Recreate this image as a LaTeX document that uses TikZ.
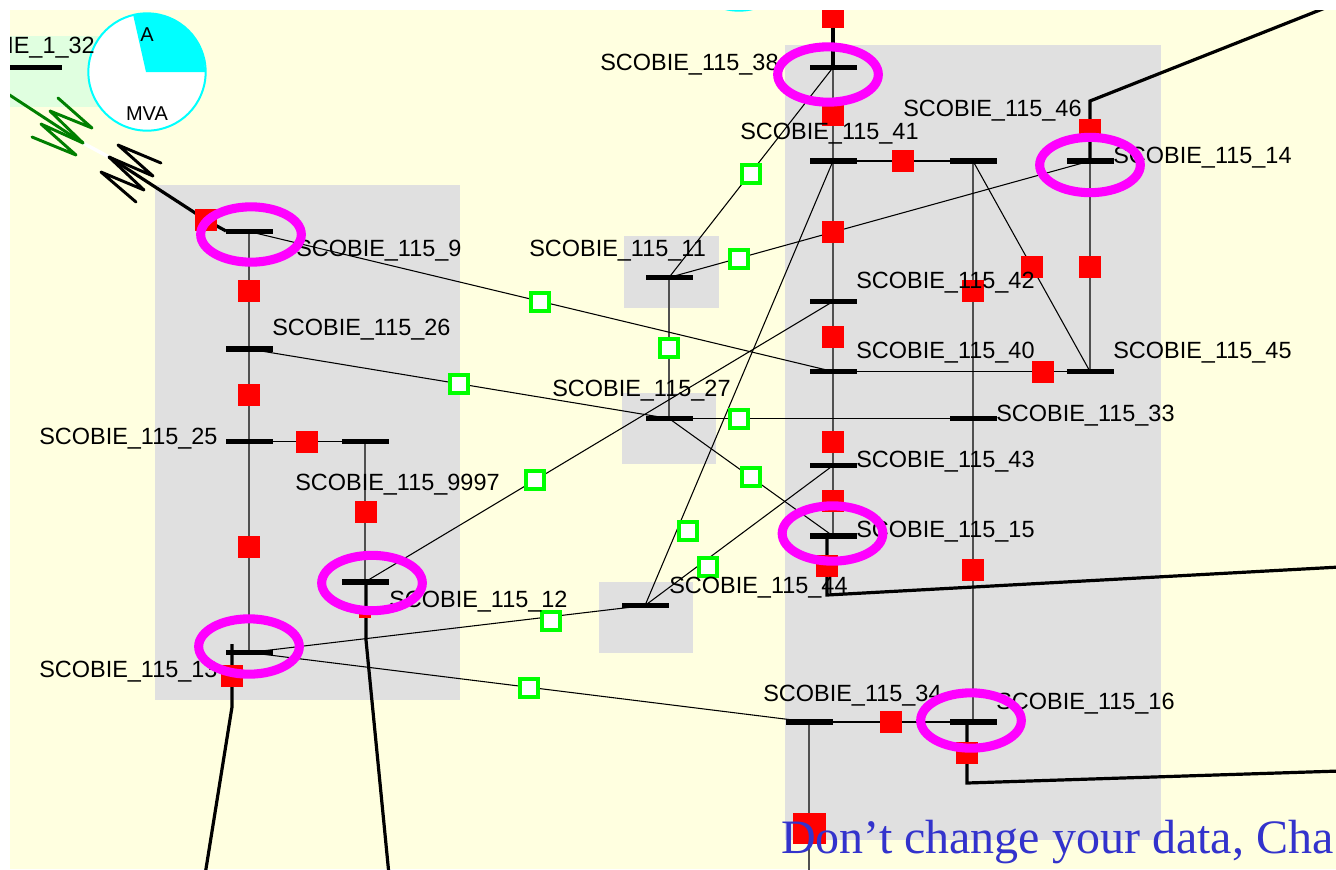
\documentclass[tikz,border=0pt]{standalone}
\usepackage{fontspec}
\setmainfont{Liberation Sans}
\newfontfamily\serifblue{Liberation Serif}
\usetikzlibrary{shapes.geometric}
\pgfdeclarelayer{under}
\pgfdeclarelayer{lines}
\pgfsetlayers{under,lines,main}
\definecolor{bgy}{HTML}{FFFFE0}
\definecolor{boxg}{HTML}{E0E0E0}
\definecolor{boxl}{HTML}{E0FFE0}
\definecolor{vgray}{HTML}{505050}
\definecolor{txtblue}{HTML}{3333CC}
\definecolor{dgreen}{HTML}{007F00}
\definecolor{purecyan}{HTML}{00FFFF}
\definecolor{puremag}{HTML}{FF00FF}
\definecolor{puregreen}{HTML}{00FF00}
\definecolor{purered}{HTML}{FF0000}
\tikzset{
  x=0.75pt,y=-0.75pt,
  bus/.style={fill=black,inner sep=0,outer sep=0,minimum width=35.25pt,minimum height=4pt},
  redsq/.style={fill=purered,inner sep=0,outer sep=0,minimum width=16.2pt,minimum height=16pt},
  grnsq/.style={fill=white,draw=puregreen,line width=2.5pt,inner sep=0,minimum size=13.5pt},
  halo/.style={ellipse,draw=puremag,line width=6.8pt,inner sep=0,minimum width=75.5pt,minimum height=41.5pt},
  lab/.style={inner sep=0,anchor=base west,font=\fontsize{17.6}{20}\selectfont,text=black},
  thin line/.style={draw=black,line width=0.8pt},
  vert line/.style={draw=vgray,line width=1.1pt},
  thick line/.style={draw=black,line width=2.4pt,line join=miter},
  zig/.style={line width=2.2pt,line join=round,line cap=round},
  area/.style={fill=boxg,draw=none},
  pie/.style={circle,draw=purecyan,fill=white,line width=1.5pt,inner sep=0,minimum size=88pt}
}
\begin{document}
\begin{tikzpicture}
\useasboundingbox (0,0) rectangle (1336,869);
\begin{pgfonlayer}{under}
\fill[white] (0,0) rectangle (1336,869);
\begin{scope}
\clip (10,10) rectangle (1336,869);
\fill[bgy] (10,10) rectangle (1336,869);
\fill[boxl] (10,36) rectangle (105,107);
\fill[area] (155,185) rectangle (460,700);
\fill[area] (785,45) rectangle (1161,840);
\fill[area] (624,236) rectangle (719,308);
\fill[area] (622,393) rectangle (716,464);
\fill[area] (599,582) rectangle (693,653);
\node[pie] (pieb) at (739,-48) {};
\node[pie] (pie) at (147,72) {};
\fill[purecyan] (146,72) -- (205,72) arc[start angle=0,end angle=103,radius=44pt] -- cycle;
\end{scope}
\end{pgfonlayer}
\begin{scope}
\clip (10,10) rectangle (1336,869);
% free ends
\coordinate (e38) at (833,5);
\coordinate (c46) at (1090,101);
\coordinate (e46) at (1325,8);
\coordinate (t15) at (827,536);
\coordinate (c15) at (827,595);
\coordinate (e15) at (1340,567);
\coordinate (t16) at (967,722);
\coordinate (c16) at (967,783);
\coordinate (e16) at (1340,771);
\coordinate (t12) at (366,582);
\coordinate (c12) at (366,640);
\coordinate (e12) at (389,875);
\coordinate (t13) at (232,644);
\coordinate (c13) at (232,707);
\coordinate (e13) at (205,875);
\coordinate (e34) at (809,875);
\coordinate (tt) at (109,157);
\coordinate (tg) at (83,143);
\coordinate (eg) at (5,92);
\coordinate (k9) at (226,231);
% red squares
\node[redsq] (r38t) at (833,17) {};
\node[redsq] (r38b) at (833,115) {};
\node[redsq] (r46) at (1090,130) {};
\node[redsq] (r15b) at (827,566) {};
\node[redsq] (r16b) at (967,753) {};
\node[redsq,minimum width=9pt,minimum height=9pt] (r12b) at (365,612) {};
\node[redsq] (r13b) at (232,676) {};
\node[redsq] (r9) at (206,220) {};
\node[redsq,minimum width=24.8pt,minimum height=23.2pt] (r34b) at (809.5,828.5) {};
\node[redsq] (r1) at (903,161) {};
\node[redsq] (r2) at (833,232) {};
\node[redsq] (r3) at (833,337) {};
\node[redsq] (r4) at (833,442) {};
\node[redsq] (r5) at (833,501) {};
\node[redsq] (r6) at (1043,372) {};
\node[redsq] (r7) at (973,291) {};
\node[redsq] (r8) at (973,570) {};
\node[redsq] (r10) at (1032,267) {};
\node[redsq] (r11) at (1090,267) {};
\node[redsq] (r12) at (891,722) {};
\node[redsq] (r13) at (249,291) {};
\node[redsq] (r14) at (249,395) {};
\node[redsq] (r15) at (307,442) {};
\node[redsq] (r16) at (249,547) {};
\node[redsq] (r17) at (366,512) {};
% green squares
\node[grnsq] (g1) at (751,174) {};
\node[grnsq] (g2) at (739,259) {};
\node[grnsq] (g3) at (540,302) {};
\node[grnsq] (g4) at (459,384) {};
\node[grnsq] (g5) at (669,348) {};
\node[grnsq] (g6) at (739,419) {};
\node[grnsq] (g7) at (751,477) {};
\node[grnsq] (g8) at (535,480) {};
\node[grnsq] (g9) at (688,531) {};
\node[grnsq] (g10) at (708,567) {};
\node[grnsq] (g11) at (551,621) {};
\node[grnsq] (g12) at (529,688) {};
% buses
\node[bus,minimum width=42pt] (b32) at (34,67.5) {};
\node[bus] (b9) at (249,231.5) {};
\node[bus] (b26) at (249,349) {};
\node[bus] (b25) at (249,441.5) {};
\node[bus] (b9997) at (365,441.5) {};
\node[bus] (b12) at (365,582) {};
\node[bus] (b13) at (249,652.5) {};
\node[bus] (b38) at (833,67.5) {};
\node[bus] (b41) at (833,161) {};
\node[bus] (b46) at (973,161) {};
\node[bus] (b14) at (1090,161) {};
\node[bus] (b42) at (833,301.5) {};
\node[bus] (b40) at (833,371.5) {};
\node[bus] (b45) at (1090,371.5) {};
\node[bus] (b33) at (973,418.5) {};
\node[bus] (b43) at (833,465.5) {};
\node[bus] (b15) at (833,536) {};
\node[bus] (b27) at (669,418.5) {};
\node[bus] (b11) at (669,277.5) {};
\node[bus] (b44) at (645,605.5) {};
\node[bus] (b34) at (809,722) {};
\node[bus] (b16) at (973,722) {};
% labels
\node[lab,anchor=base east] (l32) at (95,53) {SCOBIE\_1\_32};
\node[lab] (l38) at (600,70) {SCOBIE\_115\_38};
\node[lab] (l41) at (740,139) {SCOBIE\_115\_41};
\node[lab] (l46) at (903,116) {SCOBIE\_115\_46};
\node[lab] (l14) at (1113,163) {SCOBIE\_115\_14};
\node[lab] (l42) at (856,288) {SCOBIE\_115\_42};
\node[lab] (l40) at (856,358) {SCOBIE\_115\_40};
\node[lab] (l45) at (1113,358) {SCOBIE\_115\_45};
\node[lab] (l33) at (996,421) {SCOBIE\_115\_33};
\node[lab] (l43) at (856,467) {SCOBIE\_115\_43};
\node[lab] (l15) at (856,537) {SCOBIE\_115\_15};
\node[lab] (l44) at (669,593) {SCOBIE\_115\_44};
\node[lab] (l34) at (763,701) {SCOBIE\_115\_34};
\node[lab] (l16) at (996,709) {SCOBIE\_115\_16};
\node[lab] (l11) at (529,256) {SCOBIE\_115\_11};
\node[lab] (l27) at (552,396) {SCOBIE\_115\_27};
\node[lab] (l26) at (272,335) {SCOBIE\_115\_26};
\node[lab] (l9) at (296,256) {SCOBIE\_115\_9};
\node[lab] (l25) at (39,444) {SCOBIE\_115\_25};
\node[lab] (l9997) at (295,490) {SCOBIE\_115\_9997};
\node[lab] (l12) at (389,607) {SCOBIE\_115\_12};
\node[lab] (l13) at (39,677) {SCOBIE\_115\_13};
\node[inner sep=0,anchor=base,font=\fontsize{15}{18}\selectfont] (pa) at (147,41) {A};
\node[inner sep=0,anchor=base,font=\fontsize{15}{18}\selectfont] (pm) at (147,120) {MVA};
% overload rings
\node[halo] (h38) at (828,74.5) {};
\node[halo] (h9) at (251,234.5) {};
\node[halo] (h14) at (1090,165) {};
\node[halo] (h15) at (832.5,533.5) {};
\node[halo] (h12) at (372,583) {};
\node[halo] (h13) at (249,646.5) {};
\node[halo] (h16) at (971,720.5) {};
% slogan
\node[inner sep=0,anchor=base west,font=\serifblue\fontsize{36}{40}\selectfont,text=txtblue] (slogan) at (781,853) {Don’t change your data, Cha};
\end{scope}
\begin{pgfonlayer}{lines}
\begin{scope}
\clip (10,10) rectangle (1336,869);
\path[vert line] (b38.center) -- (b41.center);
\path[vert line] (b41.center) -- (b42.center);
\path[vert line] (b42.center) -- (b40.center);
\path[vert line] (b40.center) -- (b43.center);
\path[vert line] (b43.center) -- (b15.center);
\path[vert line] (b46.center) -- (b33.center);
\path[vert line] (b33.center) -- (b16.center);
\path[vert line] (b14.center) -- (b45.center);
\path[vert line] (b9.center) -- (b26.center);
\path[vert line] (b26.center) -- (b25.center);
\path[vert line] (b25.center) -- (b13.center);
\path[vert line] (b9997.center) -- (b12.center);
\path[vert line] (b11.center) -- (b27.center);
\path[vert line] (b34.center) -- (e34);
\path[thin line] (b38.center) -- (b11.center);
\path[thin line] (b41.center) -- (b46.center);
\path[thin line] (b41.center) -- (b44.center);
\path[thin line] (b42.center) -- (b12.center);
\path[thin line] (b40.center) -- (b45.center);
\path[thin line] (b9.center) -- (b40.center);
\path[thin line] (b26.center) -- (b27.center);
\path[thin line] (b25.center) -- (b9997.center);
\path[thin line] (b11.center) -- (b14.center);
\path[thin line] (b27.center) -- (b33.center);
\path[thin line] (b27.center) -- (b15.center);
\path[thin line] (b43.center) -- (b44.center);
\path[thin line] (b13.center) -- (b44.center);
\path[thin line] (b13.center) -- (b34.center);
\path[thin line] (b34.center) -- (b16.center);
\path[thin line] (b46.center) -- (b45.center);
\path[thick line] (e38) -- (b38.center);
\path[thick line] (b14.center) -- (c46) -- (e46);
\path[thick line] (t15) -- (c15) -- (e15);
\path[thick line] (t16) -- (c16) -- (e16);
\path[thick line] (t12) -- (c12) -- (e12);
\path[thick line] (t13) -- (c13) -- (e13);
\path[thick line] (tt) -- (r9.center) -- (k9);
\draw[zig,white,line width=2.6pt,line cap=butt] (tg) -- (tt);
\draw[zig,dgreen] (eg) -- (tg);
\draw[zig,dgreen] (32,137) -- (76,155) -- (41,124) -- (83,143) -- (50,111) -- (92,128) -- (58,98);
\draw[zig,black] (161,163) -- (118,145) -- (153,176) -- (109,157) -- (144,190) -- (101,172) -- (136,202);
\end{scope}
\end{pgfonlayer}
\end{tikzpicture}
\end{document}
